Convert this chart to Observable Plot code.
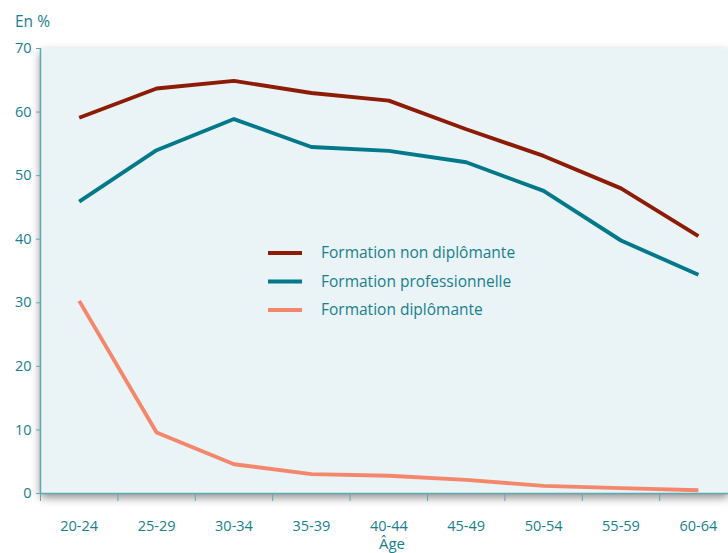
<!DOCTYPE html>
<html lang="fr">
<head>
<meta charset="utf-8">
<script src="https://cdn.jsdelivr.net/npm/d3@7"></script>
<script src="https://cdn.jsdelivr.net/npm/@observablehq/plot@0.6"></script>
<style>
  html, body { margin: 0; padding: 0; background: #ffffff; }
  #chart { position: relative; width: 728px; height: 553px; overflow: hidden; }
</style>
</head>
<body>
<div id="chart"></div>
<script>
// Tranches d'âge (axe horizontal)
const ages = ["20-24", "25-29", "30-34", "35-39", "40-44", "45-49", "50-54", "55-59", "60-64"];

// Séries, en %
const series = ["Formation non diplômante", "Formation professionnelle", "Formation diplômante"];
const nonDiplomante   = [59.1, 63.7, 64.9, 63.0, 61.8, 57.3, 53.1, 48.0, 40.5];
const professionnelle = [45.9, 54.0, 58.9, 54.5, 53.9, 52.1, 47.6, 39.8, 34.4];
const diplomante      = [30.3, 9.6, 4.6, 3.05, 2.8, 2.15, 1.2, 0.85, 0.5];

// Graduations de l'axe vertical
const yTicks = [0, 10, 20, 30, 40, 50, 60, 70];

const colors = ["#8c1c05", "#00798a", "#f4876b"];
const textColor = "#17808d";
const axisColor = "#5fa9b2";
const panelFill = "#eaf3f6";

const values = [nonDiplomante, professionnelle, diplomante];
const rows = series.flatMap((s, k) =>
  ages.map((a, i) => ({ serie: s, i, age: a, value: values[k][i] }))
);
const bounds = d3.range(ages.length + 1).map(i => i - 0.5);

const plot = Plot.plot({
  width: 728,
  height: 553,
  marginLeft: 40,
  marginRight: 0,
  marginTop: 48,
  marginBottom: 60,
  style: { fontFamily: "'Open Sans', sans-serif", fontSize: "14px", color: textColor, background: "transparent", overflow: "visible" },
  x: { domain: [-0.5, ages.length - 0.5], range: [40, 40 + 77.4 * ages.length] },
  y: { domain: [0, 70] },
  color: { domain: series, range: colors },
  marks: [
    Plot.frame({ fill: panelFill, stroke: null }),
    Plot.axisY({ ticks: yTicks, tickSize: 4, tickPadding: 5, label: null, stroke: axisColor, fill: textColor, fontSize: 14.5 }),
    Plot.axisX({ ticks: bounds, tickSize: 8, tickFormat: () => "", label: null, stroke: axisColor }),
    Plot.axisX({ ticks: d3.range(ages.length), tickSize: 0, tickPadding: 27, tickFormat: i => ages[i], label: null, fill: textColor, fontSize: 14.5 }),
    Plot.ruleY([0], { stroke: axisColor, strokeWidth: 1.5 }),
    Plot.ruleX([-0.5], { stroke: axisColor, strokeWidth: 1.5 }),
    Plot.line(rows, { x: "i", y: "value", z: "serie", stroke: "serie", strokeWidth: 3.9, strokeLinejoin: "miter", strokeLinecap: "butt" })
  ]
});

document.getElementById("chart").appendChild(plot);

// Ombre portée du panneau
const svg = d3.select(plot);
const defs = svg.insert("defs", ":first-child");
const f = defs.append("filter").attr("id", "ombre").attr("x", "-10%").attr("y", "-10%").attr("width", "120%").attr("height", "125%");
f.append("feDropShadow").attr("dx", 0).attr("dy", 4).attr("stdDeviation", 5).attr("flood-color", "#000").attr("flood-opacity", 0.45);
svg.select('[aria-label="frame"]').attr("filter", "url(#ombre)");

// Titres des axes
svg.append("text").attr("x", 15).attr("y", 27).attr("fill", textColor)
  .attr("text-anchor", "start").style("font-size", "15.5px").text("En %");
svg.append("text").attr("x", 392).attr("y", 549).attr("fill", textColor)
  .attr("text-anchor", "middle").style("font-size", "15px").text("Âge");

// Légende
const leg = svg.append("g");
series.forEach((s, k) => {
  const y = 253 + k * 28.5;
  leg.append("line").attr("x1", 268).attr("x2", 302).attr("y1", y).attr("y2", y)
    .attr("stroke", colors[k]).attr("stroke-width", 4);
  leg.append("text").attr("x", 321).attr("y", y).attr("dy", "0.35em")
    .attr("text-anchor", "start").attr("fill", textColor)
    .style("font-size", "15.5px").text(s);
});
</script>
</body>
</html>
